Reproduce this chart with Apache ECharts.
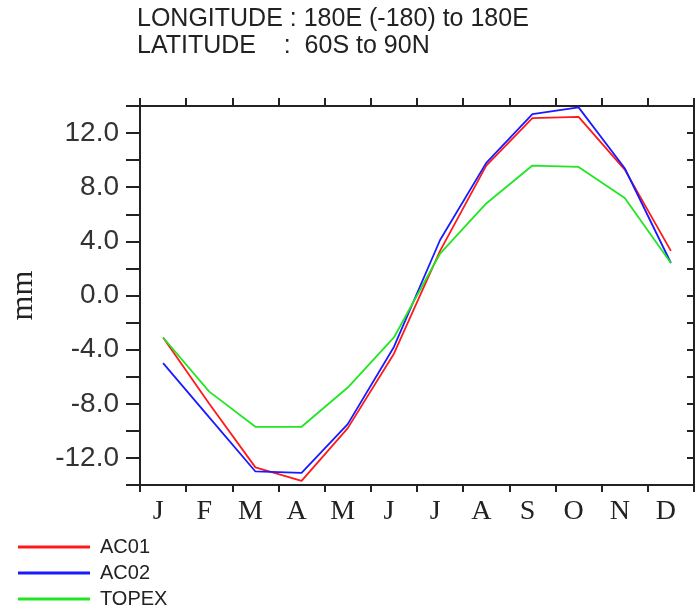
<!DOCTYPE html>
<html>
<head>
<meta charset="utf-8">
<style>
html,body{margin:0;padding:0;background:#fff;}
#chart{width:699px;height:612px;}
</style>
<script src="https://cdn.jsdelivr.net/npm/echarts@6/dist/echarts.min.js"></script>
</head>
<body>
<div id="chart"></div>
<script>
var months = ['J','F','M','A','M','J','J','A','S','O','N','D'];
var ac01 = [-3.1, -8.0, -12.7, -13.7, -9.8, -4.3, 3.3, 9.6, 13.1, 13.2, 9.3, 3.3];
var ac02 = [-5.0, -9.0, -13.0, -13.1, -9.5, -3.8, 4.1, 9.8, 13.4, 13.9, 9.4, 2.4];
var topex = [-3.1, -7.1, -9.7, -9.7, -6.8, -3.1, 3.1, 6.8, 9.6, 9.5, 7.2, 2.4];
var seriesNames = ['AC01','AC02','TOPEX'];
var titleLines = ['LONGITUDE : 180E (-180) to 180E', 'LATITUDE    :  60S to 90N'];

var axisColor = '#222';
var chart = echarts.init(document.getElementById('chart'), null, {renderer:'canvas'});
function mk(name, data, color){
  return {name:name, type:'line', data:data, symbol:'none', xAxisIndex:0, yAxisIndex:0,
    lineStyle:{color:color, width:1.8}, itemStyle:{color:color}, animation:false};
}
var legends = seriesNames.map(function(n, i){
  return {
    orient:'horizontal', left:18, top:537 + i*26, itemWidth:72, itemHeight:3, icon:'rect',
    data:[n], padding:0,
    textStyle:{fontFamily:'Liberation Sans', fontSize:20, color:'#222', padding:[0,0,0,5]}
  };
});
chart.setOption({
  animation:false,
  backgroundColor:'#fff',
  title:{
    text: titleLines.join('\n'), left:137, top:6, padding:0,
    textStyle:{fontFamily:'Liberation Sans', fontSize:25, fontWeight:'normal', color:'#222', lineHeight:27}
  },
  legend: legends,
  grid:{left:137, right:5, top:106, bottom:127},
  xAxis:[{
    type:'category', data:months, boundaryGap:true, position:'bottom',
    axisLine:{onZero:false, lineStyle:{color:axisColor, width:2}},
    axisTick:{show:true, interval:0, inside:false, length:7, lineStyle:{color:axisColor, width:2}},
    axisLabel:{interval:0, margin:13, fontFamily:'Liberation Serif', fontSize:28, color:'#222', padding:[0,10,0,0]},
    splitLine:{show:false}
  },{
    type:'category', data:months, boundaryGap:true, position:'top',
    axisLine:{onZero:false, lineStyle:{color:axisColor, width:2}},
    axisTick:{show:true, interval:0, inside:false, length:8, lineStyle:{color:axisColor, width:2}},
    axisLabel:{show:false}, splitLine:{show:false}
  }],
  yAxis:[{
    type:'value', min:-14, max:14, interval:2, position:'left',
    name:'mm', nameLocation:'middle', nameRotate:90, nameGap:100,
    nameTextStyle:{fontFamily:'Liberation Serif', fontSize:32, color:'#222'},
    axisLine:{show:true, onZero:false, lineStyle:{color:axisColor, width:2}},
    axisTick:{show:true, inside:false, length:14, lineStyle:{color:axisColor, width:2}},
    axisLabel:{margin:21, fontFamily:'Liberation Sans', fontSize:28, color:'#333',
      formatter:function(v){ return (Math.round(v) % 4 === 0) ? v.toFixed(1) : ''; }},
    splitLine:{show:false}
  },{
    type:'value', min:-14, max:14, interval:2, position:'right',
    axisLine:{show:true, onZero:false, lineStyle:{color:axisColor, width:2}},
    axisTick:{show:true, inside:true, length:7, lineStyle:{color:axisColor, width:2}},
    axisLabel:{show:false}, splitLine:{show:false}
  }],
  series:[
    mk(seriesNames[0], ac01, '#ff1a1a'),
    mk(seriesNames[1], ac02, '#1a1aff'),
    mk(seriesNames[2], topex, '#22e622')
  ]
});
</script>
</body>
</html>
